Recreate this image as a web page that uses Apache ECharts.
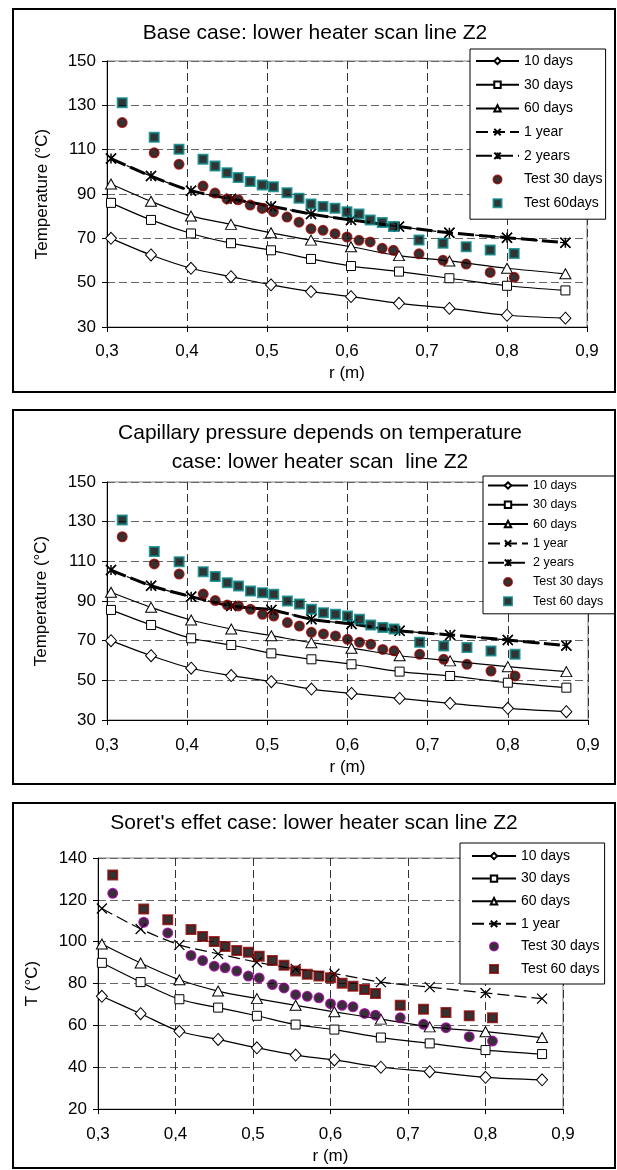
<!DOCTYPE html>
<html><head><meta charset="utf-8">
<script src="https://cdn.jsdelivr.net/npm/echarts@6/dist/echarts.min.js"></script>
<style>
html,body{margin:0;padding:0;background:#fff;width:617px;height:1170px;overflow:hidden}
.p{position:absolute;left:0;width:617px}
</style></head>
<body>
<div id="c1" class="p" style="top:0;height:398px"></div>
<div id="c2" class="p" style="top:398px;height:392px"></div>
<div id="c3" class="p" style="top:790px;height:380px"></div>
<script>
// ---------- data ----------
const xModel = [0.305, 0.355, 0.405, 0.455, 0.505, 0.555, 0.605, 0.665, 0.728, 0.8, 0.873];
const xTest = [0.319, 0.359, 0.39, 0.42, 0.435, 0.45, 0.464, 0.479, 0.494, 0.508, 0.525, 0.54, 0.555, 0.57, 0.585, 0.6, 0.615, 0.629, 0.644, 0.658, 0.69, 0.72, 0.749, 0.779, 0.809];
const xTickLabels = ['0,3', '0,4', '0,5', '0,6', '0,7', '0,8', '0,9'];
const yTickLabelsA = ['30', '50', '70', '90', '110', '130', '150'];
const yTickLabelsB = ['20', '40', '60', '80', '100', '120', '140'];

// Panel 1 : base case
const p1_10d = [70, 62.5, 56.5, 52.7, 49, 46, 43.7, 40.7, 38.4, 35.3, 34];
const p1_30d = [86, 78.3, 72.2, 67.8, 64.6, 60.7, 57.5, 55, 52, 48.6, 46.5];
const p1_60d = [94.5, 86.7, 80.1, 76.3, 72.5, 69.2, 66.2, 62.2, 59.8, 56.5, 54];
const p1_1y = [106, 98.1, 91.5, 87.8, 84.5, 81, 78.3, 75.3, 72.5, 70.3, 68];
const p1_2y = [106, 98.1, 91.5, 87.8, 84.5, 81, 78.3, 75.3, 72.5, 70.3, 68];
const p1_t30 = [122.2, 108.6, 103.4, 93.6, 90.4, 87.8, 87.4, 85, 83.5, 82, 79.6, 77.3, 74.3, 73.6, 72.1, 70.6, 69.1, 68.4, 65.5, 64.6, 63, 60.1, 58.4, 54.6, 52.4];
const p1_t60 = [131.2, 115.6, 110.2, 105.7, 102.6, 99.6, 97.4, 95.6, 94.1, 93.3, 90.6, 88.1, 85.5, 84.4, 83.6, 82, 81, 78.3, 77.1, 75.3, 69.2, 67.8, 66.2, 64.7, 63.2];

// Panel 2 : capillary pressure depends on temperature
const p2_10d = [70, 62.4, 56.1, 52.4, 49.3, 45.6, 43.4, 40.9, 38.4, 35.9, 34.2];
const p2_30d = [85.5, 77.9, 71.2, 67.8, 63.6, 60.6, 58.1, 54.4, 52.2, 48.8, 46.3];
const p2_60d = [94.4, 86.8, 80.4, 75.9, 72.5, 69, 66.2, 62.4, 59.8, 56.9, 54.4];
const p2_1y = [105.6, 97.7, 92.2, 87.5, 85.5, 80.8, 78.4, 75, 72.9, 70.3, 67.5];
const p2_2y = [105.6, 97.7, 92.2, 87.5, 85.5, 80.8, 78.4, 75, 72.9, 70.3, 67.5];
const p2_t30 = [122.4, 108.7, 103.6, 93.5, 90.2, 88, 87.5, 85.8, 83.3, 82.4, 79.1, 77.4, 74.2, 73.4, 72.4, 70.7, 69.2, 68.2, 65.6, 64.9, 63.1, 60.6, 58.1, 54.7, 52.2];
const p2_t60 = [130.9, 114.9, 109.8, 104.8, 102.3, 99.2, 97.6, 95, 94.2, 93.4, 90, 88.5, 85.8, 84.1, 83.3, 82.4, 80.8, 77.9, 76.7, 75.9, 69.2, 67.3, 66.5, 64.8, 63.1];

// Panel 3 : Soret's effect
const p3_10d = [73.9, 65.6, 57.2, 53.3, 49.3, 45.8, 43.5, 40, 37.9, 35.2, 34];
const p3_30d = [89.9, 80.7, 72.5, 68.5, 64.6, 60.4, 58, 54.2, 51.4, 48.2, 46.3];
const p3_60d = [98.9, 89.8, 81.8, 76.4, 72.8, 69.6, 66.5, 63, 59.3, 57, 54.2];
const p3_1y = [115.9, 106.1, 98.5, 94.2, 90.2, 87, 84.7, 80.7, 78.3, 75.5, 72.8];
const p3_t30 = [123.1, 109.3, 104.2, 93.4, 91, 88.3, 87.5, 86, 83.6, 82.7, 79.5, 77.9, 74.7, 73.9, 73.2, 70.4, 69.6, 68.9, 65.7, 64.9, 63.6, 60.5, 58.9, 54.6, 52.5];
const p3_t60 = [131.9, 115.6, 110.5, 105.8, 102.5, 100.1, 97.7, 95.8, 95, 93.1, 91, 88.7, 86, 84.4, 83.6, 82.8, 80.2, 78.7, 77.1, 75.2, 69.6, 67.7, 66.2, 64.6, 63.6];

// ---------- styling / building ----------
const FONT = '"Liberation Sans", Arial, Helvetica, sans-serif';
const X_PATH = 'path://M0,0L10,10M10,0L0,10';
const AST_PATH = 'path://M0,0L10,10M10,0L0,10M5,0L5,10';
const SQ_PATH = 'path://M0,0L10,0L10,10L0,10Z';

function pairs(xs, ys) { return xs.map((x, i) => [x, ys[i]]); }

function lineSeries(name, ys, kind) {
  const s = {
    name, type: 'line', data: pairs(xModel, ys), smooth: 0.3,
    showSymbol: true, symbol: 'circle', symbolSize: 9,
    lineStyle: { color: '#000', width: 1.2, type: 'solid' },
    itemStyle: { color: '#fff', borderColor: '#000', borderWidth: 1 },
    emphasis: { disabled: true }
  };
  if (kind === 'diamond') { s.symbol = 'diamond'; s.symbolSize = [11, 12]; }
  if (kind === 'square') { s.symbol = 'rect'; s.symbolSize = 9; }
  if (kind === 'triangle') { s.symbol = 'triangle'; s.symbolSize = [11, 10]; }
  if (kind === 'x') {
    s.symbol = X_PATH; s.symbolSize = 10;
    s.itemStyle = { color: '#000', borderColor: '#000', borderWidth: 1.3 };
    s.lineStyle = { color: '#000', width: 1.2, type: [12, 5] };
  }
  if (kind === 'ast') {
    s.symbol = AST_PATH; s.symbolSize = 10;
    s.itemStyle = { color: '#000', borderColor: '#000', borderWidth: 1.5 };
    s.lineStyle = { color: '#000', width: 3, type: [16, 5] };
  }
  return s;
}

function testSeries(name, ys, symbol, border) {
  return {
    name, type: 'scatter', data: pairs(xTest, ys), symbol, symbolSize: 9,
    itemStyle: { color: '#000', borderColor: border, borderWidth: 2 },
    emphasis: { disabled: true }, z: 3
  };
}

function buildOption(cfg) {
  const axisText = { fontFamily: FONT, fontSize: 17, color: '#000' };
  return {
    animation: false,
    backgroundColor: '#fff',
    graphic: [
      { type: 'rect', shape: cfg.box, style: { fill: 'none', stroke: '#000', lineWidth: 2 }, z: 100 }
    ].concat(cfg.titles.map(t => ({
      type: 'text', x: t.x, y: t.y, z: 101,
      style: { text: t.text, fill: '#000', font: '21px ' + FONT, textAlign: 'center', textVerticalAlign: 'middle' }
    }))),
    grid: { left: cfg.grid.left, top: cfg.grid.top, width: cfg.grid.width, height: cfg.grid.height,
            show: true, borderColor: '#808080', borderWidth: 1, backgroundColor: 'transparent' },
    xAxis: {
      type: 'value', min: 0.3, max: 0.9, interval: 0.1,
      axisLine: { show: true, onZero: false, lineStyle: { color: '#000', width: 1 } },
      axisTick: { show: true, length: 5, inside: false, lineStyle: { color: '#000' } },
      axisLabel: Object.assign({ margin: cfg.xLabelMargin,
        formatter: v => xTickLabels[Math.round((v - 0.3) * 10)] }, axisText),
      splitLine: { show: true, lineStyle: { color: '#333', type: [8, 4], width: 1 } },
      name: 'r (m)', nameLocation: 'middle', nameGap: cfg.xNameGap,
      nameTextStyle: Object.assign({}, axisText)
    },
    yAxis: {
      type: 'value', min: cfg.yMin, max: cfg.yMax, interval: 20,
      axisLine: { show: true, lineStyle: { color: '#000', width: 1 } },
      axisTick: { show: true, length: 5, lineStyle: { color: '#000' } },
      axisLabel: Object.assign({ margin: 11,
        formatter: v => cfg.yTicks[Math.round((v - cfg.yMin) / 20)] }, axisText),
      splitLine: { show: true, lineStyle: { color: '#666', type: [8, 4], width: 1 } },
      name: cfg.yName, nameLocation: 'middle', nameGap: cfg.yNameGap,
      nameTextStyle: Object.assign({}, axisText)
    },
    legend: Object.assign({
      orient: 'vertical', selectedMode: false,
      borderColor: '#000', borderWidth: 1, backgroundColor: '#fff',
      itemHeight: 8, z: 50
    }, cfg.legend),
    series: cfg.series
  };
}

const panels = [
  {
    el: 'c1',
    box: { x: 13, y: 9, width: 602, height: 383 },
    titles: [{ text: 'Base case: lower heater scan line Z2', x: 315, y: 33 }],
    grid: { left: 107, top: 61, width: 480, height: 266 },
    yMin: 30, yMax: 150, yTicks: yTickLabelsA, yName: 'Temperature (°C)', yNameGap: 56,
    xLabelMargin: 16, xNameGap: 37,
    legend: { left: 470, top: 49, itemWidth: 43, itemGap: 9.7, padding: [5, 3, 9, 5],
      textStyle: { fontFamily: FONT, fontSize: 14, color: '#000', lineHeight: 14 },
      data: ['10 days', '30 days', '60 days', '1 year', '2 years', 'Test 30 days', 'Test 60days'] },
    series: [
      lineSeries('10 days', p1_10d, 'diamond'),
      lineSeries('30 days', p1_30d, 'square'),
      lineSeries('60 days', p1_60d, 'triangle'),
      lineSeries('1 year', p1_1y, 'x'),
      lineSeries('2 years', p1_2y, 'ast'),
      testSeries('Test 30 days', p1_t30, 'circle', '#800000'),
      testSeries('Test 60days', p1_t60, SQ_PATH, '#008080')
    ]
  },
  {
    el: 'c2',
    box: { x: 13, y: 12, width: 602, height: 374 },
    titles: [
      { text: 'Capillary pressure depends on temperature', x: 320, y: 35 },
      { text: 'case: lower heater scan  line Z2', x: 320, y: 64 }
    ],
    grid: { left: 107, top: 84, width: 481, height: 238 },
    yMin: 30, yMax: 150, yTicks: yTickLabelsA, yName: 'Temperature (°C)', yNameGap: 57,
    xLabelMargin: 17, xNameGap: 36,
    legend: { left: 483, top: 78, itemWidth: 40, itemGap: 6.3, padding: [3, 12, 6, 4],
      textStyle: { fontFamily: FONT, fontSize: 12.5, color: '#000', lineHeight: 12 },
      data: ['10 days', '30 days', '60 days', '1 year', '2 years', 'Test 30 days', 'Test 60 days'] },
    series: [
      lineSeries('10 days', p2_10d, 'diamond'),
      lineSeries('30 days', p2_30d, 'square'),
      lineSeries('60 days', p2_60d, 'triangle'),
      lineSeries('1 year', p2_1y, 'x'),
      lineSeries('2 years', p2_2y, 'ast'),
      testSeries('Test 30 days', p2_t30, 'circle', '#800000'),
      testSeries('Test 60 days', p2_t60, SQ_PATH, '#008080')
    ]
  },
  {
    el: 'c3',
    box: { x: 13, y: 13, width: 602, height: 365 },
    titles: [{ text: "Soret's effet case: lower heater scan line Z2", x: 314, y: 33 }],
    grid: { left: 98, top: 68, width: 465, height: 253 },
    yMin: 20, yMax: 140, yTicks: yTickLabelsB, yName: 'T (°C)', yNameGap: 57,
    xLabelMargin: 17, xNameGap: 32,
    legend: { left: 460, top: 53, itemWidth: 44, itemGap: 8.6, padding: [6, 5, 8, 11],
      textStyle: { fontFamily: FONT, fontSize: 14, color: '#000', lineHeight: 14 },
      data: ['10 days', '30 days', '60 days', '1 year', 'Test 30 days', 'Test 60 days'] },
    series: [
      lineSeries('10 days', p3_10d, 'diamond'),
      lineSeries('30 days', p3_30d, 'square'),
      lineSeries('60 days', p3_60d, 'triangle'),
      lineSeries('1 year', p3_1y, 'x'),
      testSeries('Test 30 days', p3_t30, 'circle', '#800080'),
      testSeries('Test 60 days', p3_t60, SQ_PATH, '#800000')
    ]
  }
];

panels.forEach(cfg => {
  const chart = echarts.init(document.getElementById(cfg.el), null, { renderer: 'canvas' });
  chart.setOption(buildOption(cfg));
});
</script>
</body></html>
